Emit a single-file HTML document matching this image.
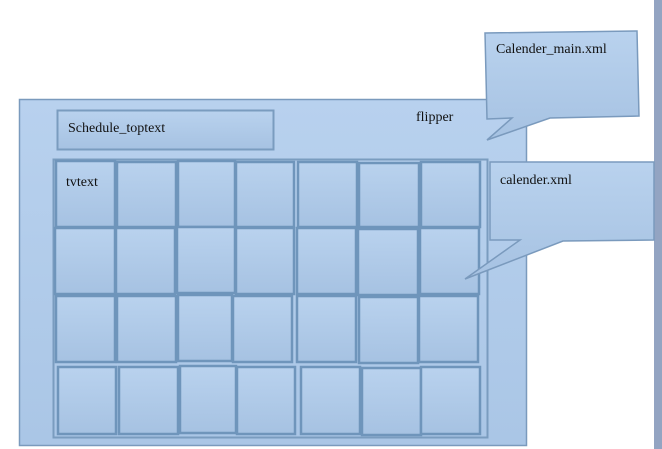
<!DOCTYPE html>
<html><head><meta charset="utf-8"><style>
html,body{margin:0;padding:0;background:#fff;}
svg{display:block;}
text{font-family:"Liberation Serif",serif;font-size:14px;fill:#111;}
</style></head><body>
<svg width="662" height="449" viewBox="0 0 662 449" xmlns="http://www.w3.org/2000/svg">
<defs>
<linearGradient id="g" x1="0" y1="0" x2="0" y2="1">
<stop offset="0" stop-color="#b9d2ee"/><stop offset="1" stop-color="#a6c2e2"/>
</linearGradient>
<linearGradient id="o" x1="0" y1="0" x2="0" y2="1">
<stop offset="0" stop-color="#b8d1ee"/><stop offset="1" stop-color="#aac6e6"/>
</linearGradient>
</defs>
<rect x="0" y="0" width="662" height="449" fill="#fff"/>
<rect x="654" y="0" width="8" height="449" fill="#93a4c2"/>
<rect x="19.5" y="99.5" width="507" height="346" fill="url(#o)" stroke="#7a9abd" stroke-width="1.5"/>
<text x="416" y="121">flipper</text>
<rect x="57.5" y="110.5" width="216" height="39" fill="url(#g)" stroke="#7a9cbf" stroke-width="2"/>
<text x="68" y="132">Schedule_toptext</text>
<rect x="53.5" y="159.5" width="434" height="278" fill="url(#o)" stroke="#7a9cbf" stroke-width="2"/>
<g fill="url(#g)" stroke="#6f95bb" stroke-width="2.5">
<rect x="56" y="161" width="59" height="66"/><rect x="117" y="162" width="59" height="65"/><rect x="178" y="161" width="57" height="66"/><rect x="236" y="162" width="58" height="65"/><rect x="298" y="162" width="59" height="65"/><rect x="359" y="163" width="60" height="64"/><rect x="421" y="162" width="59" height="65"/>
<rect x="55" y="228" width="60" height="66"/><rect x="116" y="228" width="59" height="66"/><rect x="177" y="227" width="58" height="66"/><rect x="236" y="228" width="58" height="66"/><rect x="297" y="228" width="59" height="66"/><rect x="358" y="229" width="60" height="66"/><rect x="420" y="228" width="59" height="66"/>
<rect x="56" y="296" width="59" height="66"/><rect x="117" y="296" width="59" height="66"/><rect x="178" y="295" width="54" height="66"/><rect x="233" y="296" width="59" height="66"/><rect x="297" y="296" width="59" height="66"/><rect x="359" y="297" width="59" height="66"/><rect x="419" y="296" width="59" height="66"/>
<rect x="58" y="367" width="58" height="67"/><rect x="119" y="367" width="59" height="67"/><rect x="180" y="366" width="56" height="67"/><rect x="237" y="367" width="58" height="67"/><rect x="301" y="367" width="59" height="67"/><rect x="362" y="368" width="59" height="67"/><rect x="421" y="367" width="59" height="67"/>
</g>
<text x="66" y="186">tvtext</text>
<polygon points="485,33 637,31 639,116 550,118 487,140 512,118 487,119" fill="url(#g)" stroke="#7a9abd" stroke-width="1.5"/>
<text x="496" y="53">Calender_main.xml</text>
<polygon points="490,162 654,162 654,240 563,241 465,279 520,240 490,240" fill="url(#g)" stroke="#7a9abd" stroke-width="1.5"/>
<text x="500" y="184">calender.xml</text>
</svg>
</body></html>
